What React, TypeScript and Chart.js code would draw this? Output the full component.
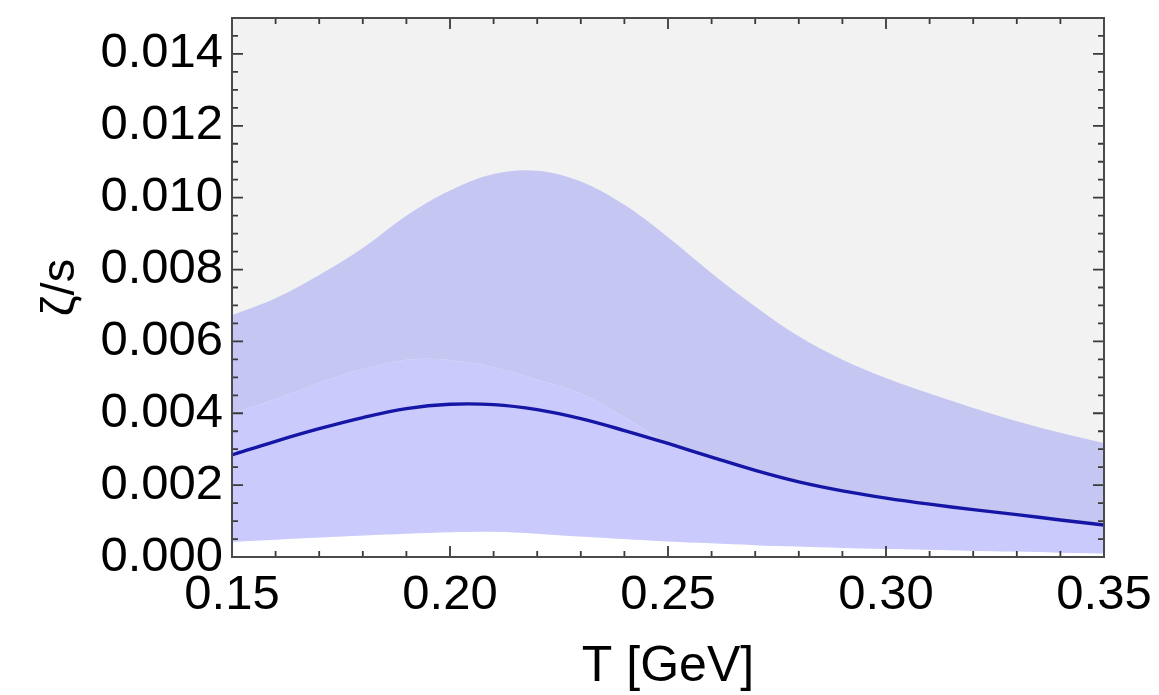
import React, { useEffect, useRef } from "react";
import { Chart, registerables } from "chart.js";

Chart.register(...registerables);

// Temperature grid [GeV]
const T_VALUES = [
  0.15, 0.16, 0.17, 0.18, 0.19, 0.2, 0.21, 0.22, 0.23, 0.24, 0.25,
  0.26, 0.27, 0.28, 0.29, 0.3, 0.31, 0.32, 0.33, 0.34, 0.35,
];

// Central curve zeta/s
const CENTRAL = [
  0.00284, 0.00322, 0.00357, 0.00388, 0.00413, 0.00425, 0.00424, 0.0041, 0.00385, 0.00352, 0.00316,
  0.00278, 0.00241, 0.00209, 0.00184, 0.00164, 0.00147, 0.00132, 0.00118, 0.00103, 0.00089,
];

// Upper edge of the wide (outer) band
const OUTER_UPPER = [
  0.00673, 0.0072, 0.00785, 0.0086, 0.0095, 0.0102, 0.01066, 0.01075, 0.01045, 0.0098, 0.0089,
  0.0079, 0.00697, 0.00614, 0.00549, 0.00498, 0.00455, 0.00415, 0.00378, 0.00346, 0.00317,
];

// Upper edge of the narrow (inner) band
const INNER_UPPER = [
  0.00401, 0.0044, 0.00485, 0.00523, 0.00549, 0.00548, 0.00528, 0.00494, 0.00455, 0.0039, 0.00316,
  0.00278, 0.00241, 0.00209, 0.00184, 0.00164, 0.00147, 0.00132, 0.00118, 0.00103, 0.00089,
];

// Lower edge of both bands
const LOWER = [
  0.00042, 0.00048, 0.00054, 0.0006, 0.00065, 0.00069, 0.0007, 0.00065, 0.00057, 0.0005, 0.00043,
  0.00038, 0.00033, 0.00029, 0.00025, 0.00022, 0.0002, 0.00017, 0.00015, 0.00012, 0.0001,
];

const X_TICKS = [0.15, 0.2, 0.25, 0.3, 0.35];
const Y_TICKS = [0, 0.002, 0.004, 0.006, 0.008, 0.01, 0.012, 0.014];
const X_MINOR_STEP = 0.01;
const Y_MINOR_STEP = 0.0005;

const FONT = "'Liberation Sans', Arial, Helvetica, sans-serif";
const TENSION = 0.35;

const pts = (ys: number[]) => T_VALUES.map((x, i) => ({ x, y: ys[i] }));

const framePlugin = {
  id: "framePlugin",
  beforeDraw(chart: any) {
    const { ctx, chartArea: a } = chart;
    ctx.save();
    ctx.fillStyle = "#f2f2f2";
    ctx.fillRect(a.left, a.top, a.right - a.left, a.bottom - a.top);
    ctx.restore();
  },
  afterDraw(chart: any) {
    const { ctx, chartArea: a, scales } = chart;
    const xs = scales.x;
    const ys = scales.y;
    ctx.save();
    ctx.strokeStyle = "#3a3a3a";
    ctx.lineWidth = 1.8;
    const nx = Math.round((xs.max - xs.min) / X_MINOR_STEP);
    for (let i = 0; i <= nx; i++) {
      const v = xs.min + i * X_MINOR_STEP;
      const px = xs.getPixelForValue(v);
      const len = i % 5 === 0 ? 11 : 6;
      ctx.beginPath();
      ctx.moveTo(px, a.bottom);
      ctx.lineTo(px, a.bottom - len);
      ctx.moveTo(px, a.top);
      ctx.lineTo(px, a.top + len);
      ctx.stroke();
    }
    const ny = Math.round((ys.max - ys.min) / Y_MINOR_STEP);
    for (let i = 0; i <= ny; i++) {
      const v = ys.min + i * Y_MINOR_STEP;
      const py = ys.getPixelForValue(v);
      const len = i % 4 === 0 ? 11 : 6;
      ctx.beginPath();
      ctx.moveTo(a.left, py);
      ctx.lineTo(a.left + len, py);
      ctx.moveTo(a.right, py);
      ctx.lineTo(a.right - len, py);
      ctx.stroke();
    }
    ctx.lineWidth = 2;
    ctx.strokeStyle = "#4a4a4a";
    ctx.strokeRect(a.left, a.top, a.right - a.left, a.bottom - a.top);
    ctx.restore();
  },
};

export default function App() {
  const ref = useRef<HTMLCanvasElement | null>(null);

  useEffect(() => {
    if (!ref.current) return;
    const chart = new Chart(ref.current, {
      type: "line",
      data: {
        datasets: [
          {
            label: "lower",
            data: pts(LOWER),
            borderWidth: 0,
            pointRadius: 0,
            backgroundColor: "#ffffff",
            fill: "origin",
            order: 3,
            tension: TENSION,
          },
          {
            label: "inner",
            data: pts(INNER_UPPER),
            borderWidth: 0,
            pointRadius: 0,
            backgroundColor: "#cacbfc",
            fill: "-1",
            order: 2,
            tension: TENSION,
          },
          {
            label: "outer",
            data: pts(OUTER_UPPER),
            borderWidth: 0,
            pointRadius: 0,
            backgroundColor: "#c5c6f2",
            fill: "-1",
            order: 1,
            tension: TENSION,
          },
          {
            label: "central",
            data: pts(CENTRAL),
            borderColor: "#1616a6",
            borderWidth: 3.4,
            pointRadius: 0,
            fill: false,
            order: 0,
            tension: TENSION,
          },
        ],
      },
      options: {
        animation: false,
        responsive: true,
        maintainAspectRatio: false,
        layout: { padding: { left: 0, top: 18, right: 55, bottom: 0 } },
        plugins: { legend: { display: false }, tooltip: { enabled: false } },
        scales: {
          x: {
            type: "linear",
            min: 0.15,
            max: 0.35,
            grid: { display: false, drawTicks: false },
            border: { display: false },
            afterBuildTicks: (s: any) => {
              s.ticks = X_TICKS.map((v) => ({ value: v }));
            },
            afterFit: (s: any) => {
              s.height = 138;
              s.paddingLeft = 0;
              s.paddingRight = 0;
            },
            ticks: {
              padding: 9,
              color: "#000",
              font: { family: FONT, size: 49 },
              maxRotation: 0,
              autoSkip: false,
              callback: (v: any) => Number(v).toFixed(2),
            },
            title: {
              display: true,
              text: "T [GeV]",
              color: "#000",
              font: { family: FONT, size: 50, lineHeight: 1 },
              padding: { top: 0, bottom: 3 },
            },
          },
          y: {
            type: "linear",
            min: 0,
            max: 0.015,
            grid: { display: false, drawTicks: false },
            border: { display: false },
            afterBuildTicks: (s: any) => {
              s.ticks = Y_TICKS.map((v) => ({ value: v }));
            },
            afterFit: (s: any) => {
              s.width = 232;
              s.paddingTop = 0;
              s.paddingBottom = 0;
            },
            ticks: {
              padding: 9,
              color: "#000",
              font: { family: FONT, size: 49 },
              autoSkip: false,
              callback: (v: any) => Number(v).toFixed(3),
            },
            title: {
              display: true,
              text: "ζ/s",
              color: "#000",
              font: { family: FONT, size: 47, lineHeight: 1 },
              padding: { top: 38, bottom: 0 },
            },
          },
        },
      },
      plugins: [framePlugin],
    });
    return () => chart.destroy();
  }, []);

  return (
    <div style={{ position: "absolute", left: 0, top: 0, width: 1159, height: 695, background: "#fff" }}>
      <canvas ref={ref} />
    </div>
  );
}
